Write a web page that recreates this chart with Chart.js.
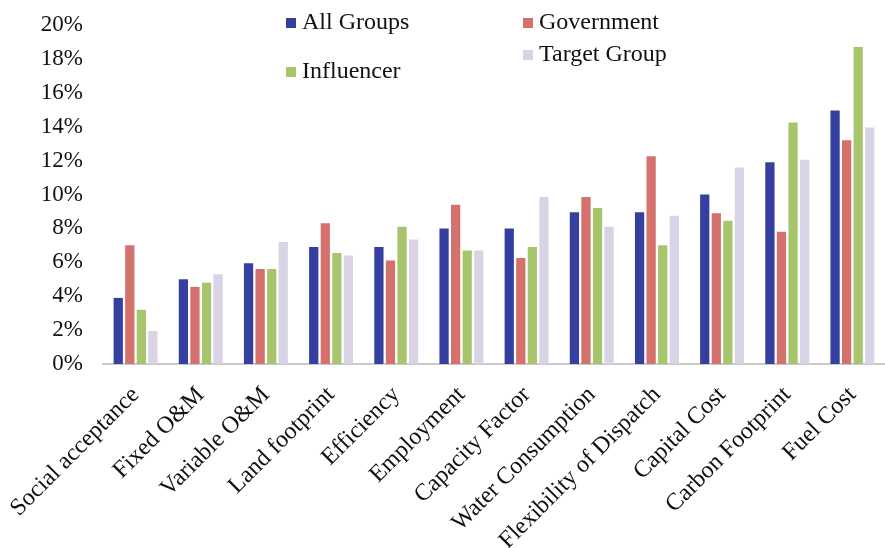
<!DOCTYPE html>
<html>
<head>
<meta charset="utf-8">
<script src="https://cdn.jsdelivr.net/npm/chart.js@4"></script>
<style>
  html, body { margin: 0; padding: 0; background: #fff; }
  #wrap { position: relative; width: 885px; height: 548px; }
  #leyenda { position: absolute; left: 0; top: 0; font-family: "Liberation Serif", "Times New Roman", serif; font-size: 24px; color: #111; }
  .ley-item { position: absolute; white-space: nowrap; line-height: 24px; }
  .ley-cuadro { display: inline-block; width: 10px; height: 10px; margin-right: 6px; vertical-align: 1px; }
</style>
</head>
<body>
<div id="wrap">
  <canvas id="criteriosChart" width="885" height="548"></canvas>
  <div id="leyenda"></div>
</div>
<script>
// =======================
// DATOS
// =======================
const criterios = ["Social acceptance", "Fixed O&M", "Variable O&M", "Land footprint", "Efficiency",
    "Employment", "Capacity Factor", "Water Consumption", "Flexibility of Dispatch",
    "Capital Cost", "Carbon Footprint", "Fuel Cost"];

const grupos = ["All Groups", "Government", "Influencer", "Target Group"];

const allGroups   = [3.9, 5.0, 5.95, 6.9, 6.9, 8.0, 8.0, 8.95, 8.95, 10.0, 11.9, 14.95];
const government  = [7.0, 4.55, 5.6, 8.3, 6.1, 9.4, 6.25, 9.85, 12.25, 8.9, 7.8, 13.2];
const influencer  = [3.2, 4.8, 5.6, 6.55, 8.1, 6.7, 6.9, 9.2, 7.0, 8.45, 14.25, 18.7];
const targetGroup = [1.95, 5.3, 7.2, 6.4, 7.35, 6.7, 9.85, 8.1, 8.75, 11.6, 12.05, 13.95];

const colores = ["#343f9f", "#d5716c", "#a7c56d", "#d9d3e6"];

const yTicks = [0, 2, 4, 6, 8, 10, 12, 14, 16, 18, 20];

// posiciones de la leyenda (x, y del cuadro)
const leyendaPos = [[286, 9], [523, 9], [286, 58], [523, 41]];

const series = [allGroups, government, influencer, targetGroup];

const ctx = document.getElementById("criteriosChart").getContext("2d");
const fuenteSerif = "'Liberation Serif', 'Times New Roman', serif";

const criteriosChart = new Chart(ctx, {
    type: "bar",
    data: {
        labels: criterios,
        datasets: grupos.map((g, i) => ({
            label: g,
            data: series[i],
            backgroundColor: colores[i],
            borderWidth: 0,
            categoryPercentage: 0.71,
            barPercentage: 0.8
        }))
    },
    options: {
        responsive: false,
        animation: false,
        layout: { padding: { top: 25, right: 0, left: 0, bottom: 0 } },
        plugins: {
            legend: { display: false },
            tooltip: { enabled: false }
        },
        scales: {
            x: {
                grid: { display: false, drawTicks: false },
                border: { display: true, color: "#c9c9c9", width: 2 },
                ticks: {
                    minRotation: 45,
                    maxRotation: 45,
                    padding: 17,
                    color: "#111",
                    font: { family: fuenteSerif, size: 24 }
                },
                afterFit: scale => {
                    scale.height = 184;
                    scale.paddingLeft = 0;
                    scale.paddingRight = 0;
                }
            },
            y: {
                min: 0,
                max: 20,
                afterBuildTicks: scale => { scale.ticks = yTicks.map(v => ({ value: v })); },
                grid: { display: false, drawTicks: false },
                border: { display: false },
                ticks: {
                    padding: 20,
                    color: "#111",
                    font: { family: fuenteSerif, size: 23 },
                    callback: v => v + "%"
                },
                afterFit: scale => {
                    scale.width = 103;
                    scale.paddingTop = 0;
                    scale.paddingBottom = 0;
                }
            }
        }
    }
});

// Leyenda HTML
const leyenda = document.getElementById("leyenda");
leyenda.innerHTML = grupos.map((g, i) => `
    <div class="ley-item" style="left:${leyendaPos[i][0]}px; top:${leyendaPos[i][1]}px;">
        <span class="ley-cuadro" style="background:${colores[i]}"></span>${g}
    </div>
`).join("");
</script>
</body>
</html>
